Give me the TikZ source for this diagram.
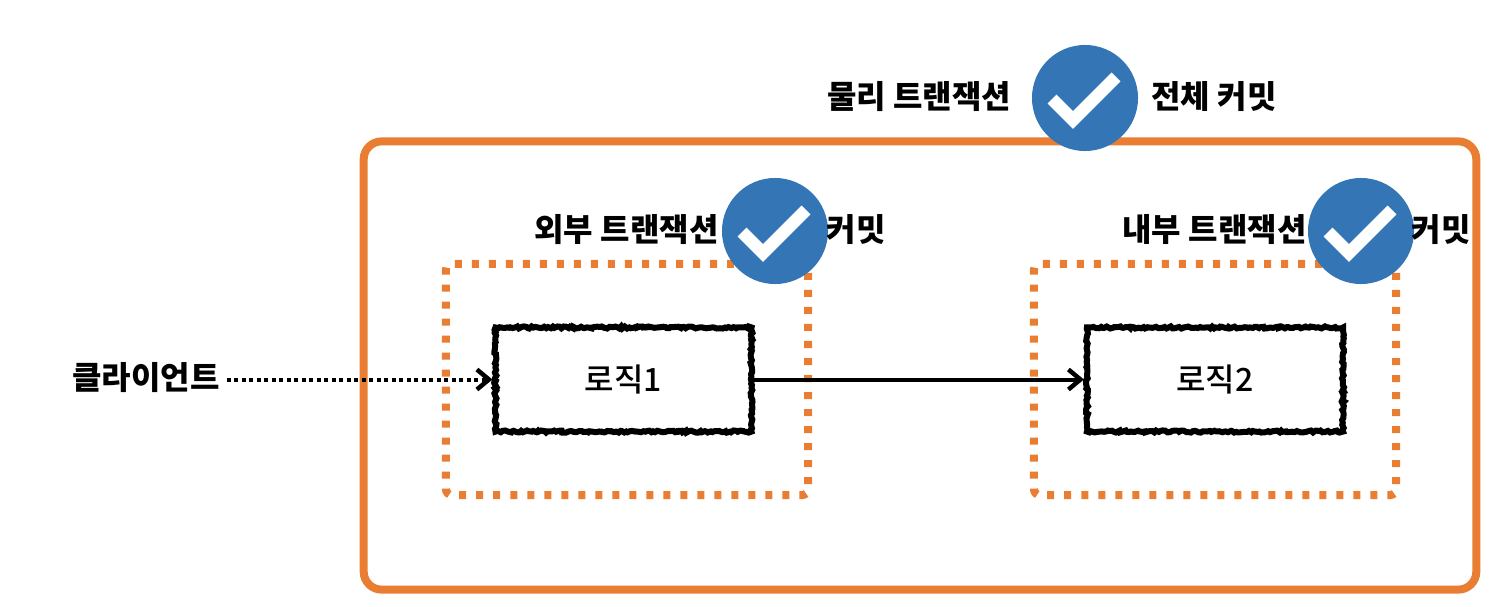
\documentclass[tikz,border=0pt]{standalone}
\usepackage{fontspec}
\setmainfont{Noto Sans CJK KR}
\newfontfamily\midfont{Noto Sans CJK KR Medium}
\usetikzlibrary{arrows.meta,decorations.pathmorphing}
\definecolor{txorange}{HTML}{E97E32}
\definecolor{txblue}{HTML}{3475B6}
\begin{document}
\begin{tikzpicture}[x=0.01cm, y=-0.01cm,
    every node/.style={font=\fontsize{9.1pt}{11pt}\selectfont\bfseries, inner sep=0pt, outer sep=0pt},
    physbox/.style={draw=txorange, line width=0.08cm, rounded corners=0.18cm, minimum width=11.12cm, minimum height=4.48cm},
    txbox/.style={draw=txorange, line width=0.08cm, rounded corners=0.06cm, dash pattern=on 0.07cm off 0.10cm, minimum width=3.62cm, minimum height=2.31cm},
    logicbox/.style={draw=black, fill=white, line width=0.06cm, decorate, decoration={random steps, segment length=0.6pt, amplitude=0.3pt}, minimum width=2.56cm, minimum height=1.04cm, font=\fontsize{9.1pt}{11pt}\selectfont\midfont},
    donemark/.style={circle, fill=txblue, minimum size=1.06cm},
    checkline/.style={draw=white, line width=0.125cm},
    flow/.style={-{Straight Barb[length=0.12cm, width=0.2cm, line width=0.045cm]}, line width=0.04cm, black, shorten >=0.03cm}]
    \useasboundingbox (0,0) rectangle (1500,606);
    \node[physbox] (physical) at (920,365.5) {};
    \node[txbox] (outertx) at (627,379.5) {};
    \node[txbox] (innertx) at (1215,379.5) {};
    \node[logicbox] (logic1) at (623.5,379.5) {로직1};
    \node[logicbox] (logic2) at (1215,379.5) {로직2};
    \node (client) at (146,378) {클라이언트};
    \draw[flow, dash pattern=on 0.04cm off 0.035cm] (client.east) ++(7,1.5) -- (logic1.west);
    \draw[flow] (logic1.east) -- (logic2.west);
    \node[donemark] (donephys) at (1085,98) {};
    \node[donemark] (doneouter) at (775,231) {};
    \node[donemark] (doneinner) at (1361,231) {};
    \foreach \mark in {donephys, doneouter, doneinner}
        \draw[checkline] ([shift={(-33,1)}]\mark.center) -- ([shift={(-12,22)}]\mark.center) -- ([shift={(31,-21)}]\mark.center);
    \node (physlabel) at (919,97) {물리 트랜잭션};
    \node (commitall) at (1214,97) {전체 커밋};
    \node (outerlabel) at (626.5,230) {외부 트랜잭션};
    \node (outercommit) at (856,230) {커밋};
    \node (innerlabel) at (1214.5,230) {내부 트랜잭션};
    \node (innercommit) at (1441,230) {커밋};
\end{tikzpicture}
\end{document}
